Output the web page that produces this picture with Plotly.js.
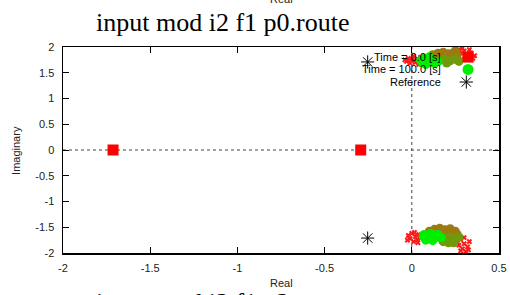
<!DOCTYPE html>
<html>
<head>
<meta charset="utf-8">
<script src="https://cdn.plot.ly/plotly-3.0.1.min.js"></script>
<style>html,body{margin:0;padding:0;background:#fff;}#chart{width:510px;height:295px;}</style>
</head>
<body>
<div id="chart"></div>
<script>
// ---- data ----
var startRe = [-1.713, -0.293];
var startIm = [0, 0];
var refRe = [-0.253, -0.253];
var refIm = [1.71, -1.71];

var redRe = [-0.03,-0.02,-0.01,0.0,0.01,0.02,0.03,0.04,0.05,-0.04,0.015,0.045,
             0.27,0.29,0.28,0.30,0.31,0.33,0.32,0.34,0.35,0.30,0.36,0.26,
             -0.02,-0.01,0.0,0.01,0.02,0.03,0.04,0.05,-0.025,0.015,0.035,
             0.26,0.27,0.28,0.29,0.30,0.31,0.32,0.33,0.30,0.325,0.28];
var redIm = [1.72,1.78,1.69,1.75,1.82,1.70,1.77,1.66,1.80,1.75,1.73,1.72,
             1.95,1.98,1.88,1.92,1.85,1.95,1.80,1.88,1.78,1.76,1.83,1.82,
             -1.66,-1.72,-1.62,-1.78,-1.68,-1.74,-1.64,-1.71,-1.75,-1.60,-1.80,
             -1.78,-1.85,-1.74,-1.92,-1.82,-1.97,-1.88,-1.78,-1.70,-1.94,-1.96];

var brownRe = [0.12,0.15,0.18,0.21,0.24,0.26,0.17,0.22,0.14,0.25,
               0.10,0.13,0.16,0.19,0.22,0.25,0.14,0.20,0.26,0.11];
var brownIm = [1.85,1.88,1.90,1.87,1.89,1.84,1.80,1.80,1.78,1.93,
               -1.58,-1.54,-1.52,-1.55,-1.53,-1.58,-1.62,-1.62,-1.64,-1.64];

var oliveRe = [0.16,0.19,0.22,0.25,0.27,0.20,0.13,
               0.16,0.19,0.22,0.25,0.27,0.21,0.24,0.18];
var oliveIm = [1.74,1.76,1.73,1.76,1.72,1.69,1.72,
               -1.70,-1.74,-1.70,-1.73,-1.69,-1.80,-1.80,-1.78];

var greenRe = [0.05,0.07,0.09,0.11,0.13,0.08,0.15,0.06,0.10,
               0.07,0.09,0.11,0.13,0.15,0.08,0.12,0.17,0.065];
var greenIm = [1.74,1.78,1.70,1.76,1.68,1.66,1.72,1.70,1.81,
               -1.64,-1.70,-1.62,-1.68,-1.64,-1.75,-1.76,-1.70,-1.68];

var legendNames = ["Time = 0.0 [s]", "Time = 100.0 [s]", "Reference"];
var xTicks = [-2, -1.5, -1, -0.5, 0, 0.5];
var yTicks = [-2, -1.5, -1, -0.5, 0, 0.5, 1, 1.5, 2];

// legend layout (paper fractions of the plot area)
var legKeyX = 0.929, legTextX = 0.872;
var legRowY = [0.951, 0.891, 0.830];

var traces = [
  {x: redRe, y: redIm, mode: 'markers', type: 'scatter', hoverinfo: 'skip',
   marker: {symbol: 'x', size: 5, color: '#ff1a1a', line: {width: 0}}},
  {x: brownRe, y: brownIm, mode: 'markers', type: 'scatter',
   marker: {symbol: 'circle', size: 9, color: '#9c7a12'}},
  {x: oliveRe, y: oliveIm, mode: 'markers', type: 'scatter',
   marker: {symbol: 'circle', size: 9, color: '#6f9a0c'}},
  {x: greenRe, y: greenIm, mode: 'markers', type: 'scatter',
   marker: {symbol: 'circle', size: 9, color: '#00ee00'}},
  {x: startRe, y: startIm, mode: 'markers', type: 'scatter',
   marker: {symbol: 'square', size: 11, color: '#ff0000'}},
  {x: refRe, y: refIm, mode: 'markers', type: 'scatter',
   marker: {symbol: 'asterisk-open', size: 11, color: '#000', line: {width: 1, color: '#000'}}},
  // legend keys
  {x: [legKeyX], y: [legRowY[0]], xaxis: 'x2', yaxis: 'y2', mode: 'markers', type: 'scatter',
   marker: {symbol: 'square', size: 11, color: '#ff0000'}},
  {x: [legKeyX], y: [legRowY[1]], xaxis: 'x2', yaxis: 'y2', mode: 'markers', type: 'scatter',
   marker: {symbol: 'circle', size: 11, color: '#00ee00'}},
  {x: [legKeyX - 0.004], y: [legRowY[2]], xaxis: 'x2', yaxis: 'y2', mode: 'markers', type: 'scatter',
   marker: {symbol: 'asterisk-open', size: 11, color: '#000', line: {width: 1, color: '#000'}}}
];

var tickFont = {family: 'Liberation Sans, Arial, sans-serif', size: 11, color: '#222'};
var ann = [];
for (var i = 0; i < legendNames.length; i++) {
  ann.push({xref: 'paper', yref: 'paper', x: legTextX, y: legRowY[i], xanchor: 'right', yanchor: 'middle',
            text: legendNames[i], showarrow: false,
            font: {family: 'Liberation Sans, Arial, sans-serif', size: 11, color: '#000'}});
}
ann.push({xref: 'paper', yref: 'paper', x: 0.365, y: 1.121, xanchor: 'center', yanchor: 'middle',
          text: 'input mod i2 f1 p0.route', showarrow: false,
          font: {family: 'Liberation Serif, Times New Roman, serif', size: 26, color: '#000'}});
ann.push({xref: 'paper', yref: 'paper', x: 0.502, y: 1.233, xanchor: 'center', yanchor: 'middle',
          text: 'Real', showarrow: false,
          font: {family: 'Liberation Sans, Arial, sans-serif', size: 11, color: '#222'}});
ann.push({xref: 'paper', yref: 'paper', x: 0.502, y: -0.146, xanchor: 'center', yanchor: 'middle',
          text: 'Real', showarrow: false,
          font: {family: 'Liberation Sans, Arial, sans-serif', size: 11, color: '#222'}});
ann.push({xref: 'paper', yref: 'paper', x: 0.365, y: -0.238, xanchor: 'center', yanchor: 'middle',
          text: 'input mod i2 f1 p2.route', showarrow: false,
          font: {family: 'Liberation Serif, Times New Roman, serif', size: 26, color: '#000'}});
ann.push({xref: 'paper', yref: 'paper', x: -0.108, y: 0.5, xanchor: 'center', yanchor: 'middle',
          text: 'Imaginary', textangle: -90, showarrow: false,
          font: {family: 'Liberation Sans, Arial, sans-serif', size: 11, color: '#222'}});

var layout = {
  width: 510, height: 295,
  margin: {l: 63, r: 11, t: 47, b: 42},
  paper_bgcolor: '#fff', plot_bgcolor: '#fff',
  showlegend: false,
  xaxis: {range: [-2, 0.5], tickvals: xTicks, ticktext: xTicks.map(String),
          ticks: 'inside', ticklen: 6, tickwidth: 1, tickcolor: '#000',
          showline: true, linecolor: '#000', linewidth: 1.5, mirror: 'ticks',
          showgrid: false, zeroline: false, tickfont: tickFont, ticklabelstandoff: 4},
  yaxis: {range: [-2, 2], tickvals: yTicks, ticktext: yTicks.map(String),
          ticks: 'inside', ticklen: 6, tickwidth: 1, tickcolor: '#000',
          showline: true, linecolor: '#000', linewidth: 1.5, mirror: 'ticks',
          showgrid: false, zeroline: false, tickfont: tickFont, ticklabelstandoff: 5},
  xaxis2: {range: [0, 1], overlaying: 'x', visible: false, fixedrange: true},
  yaxis2: {range: [0, 1], overlaying: 'y', visible: false, fixedrange: true},
  shapes: [
    {type: 'line', xref: 'x', yref: 'paper', x0: 0, x1: 0, y0: 0, y1: 1,
     line: {color: '#444', width: 1, dash: 'dot'}, layer: 'below'},
    {type: 'line', xref: 'paper', yref: 'y', x0: 0, x1: 1, y0: 0, y1: 0,
     line: {color: '#444', width: 1, dash: 'dot'}, layer: 'below'}
  ],
  annotations: ann
};

Plotly.newPlot('chart', traces, layout, {displayModeBar: false, staticPlot: true});
</script>
</body>
</html>
